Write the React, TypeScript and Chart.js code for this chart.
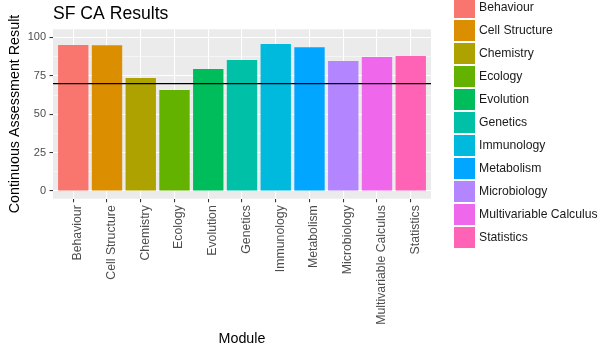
import React, { useEffect, useRef } from "react";
import { Chart, registerables } from "chart.js";

Chart.register(...registerables);

const categories = [
  "Behaviour",
  "Cell Structure",
  "Chemistry",
  "Ecology",
  "Evolution",
  "Genetics",
  "Immunology",
  "Metabolism",
  "Microbiology",
  "Multivariable Calculus",
  "Statistics",
];
const results = [95.1, 95.0, 73.6, 65.8, 79.4, 85.3, 95.7, 93.7, 84.6, 87.2, 87.9];
const colours = [
  "#F8766D",
  "#DB8E00",
  "#AEA200",
  "#64B200",
  "#00BD5C",
  "#00C1A7",
  "#00BADE",
  "#00A6FF",
  "#B385FF",
  "#EF67EB",
  "#FF63B6",
];
const yTickValues = [0, 12.5, 25, 37.5, 50, 62.5, 75, 87.5, 100];
const yMajorTicks = [0, 25, 50, 75, 100];
const referenceLine = 70;

const FONT = "'Liberation Sans', Arial, Helvetica, sans-serif";
const W = 614;
const H = 351;

const isMajor = (v: number) => yMajorTicks.includes(v);

const panelBackground = {
  id: "panelBackground",
  beforeDraw(chart: any) {
    const { ctx, chartArea } = chart;
    ctx.save();
    ctx.fillStyle = "#EBEBEB";
    ctx.fillRect(chartArea.left, chartArea.top, chartArea.right - chartArea.left, chartArea.bottom - chartArea.top);
    ctx.restore();
  },
};

const ggLegend = {
  id: "ggLegend",
  afterDraw(chart: any) {
    const { ctx } = chart;
    const keyX = 454;
    const keySize = 21;
    const step = 23;
    const firstTop = -3;
    ctx.save();
    ctx.font = `12.2px ${FONT}`;
    ctx.textBaseline = "middle";
    ctx.textAlign = "left";
    categories.forEach((name, i) => {
      const top = firstTop + i * step;
      ctx.fillStyle = colours[i];
      ctx.fillRect(keyX, top, keySize, keySize);
      ctx.fillStyle = "#1A1A1A";
      ctx.fillText(name, keyX + keySize + 4, top + keySize / 2 + 0.5);
    });
    ctx.restore();
  },
};

export default function App() {
  const canvasRef = useRef<HTMLCanvasElement | null>(null);

  useEffect(() => {
    const canvas = canvasRef.current;
    if (!canvas) return;
    Chart.defaults.font.family = FONT;

    const chart = new Chart(canvas, {
      type: "bar",
      data: {
        datasets: [
          {
            type: "line",
            label: "reference",
            data: [
              { x: -0.6, y: referenceLine },
              { x: categories.length - 1 + 0.6, y: referenceLine },
            ],
            borderColor: "#000000",
            borderWidth: 1.3,
            pointRadius: 0,
            fill: false,
            order: 0,
          } as any,
          {
            type: "bar",
            label: "Continuous Assessment Result",
            data: results.map((v, i) => ({ x: i, y: v })),
            backgroundColor: colours,
            borderWidth: 0,
            categoryPercentage: 1,
            barPercentage: 0.9,
            order: 1,
          } as any,
        ],
      },
      options: {
        responsive: false,
        animation: false,
        events: [],
        layout: { padding: { left: 0, top: 0, right: W - 431, bottom: 0 } },
        plugins: {
          legend: { display: false },
          tooltip: { enabled: false },
          title: {
            display: true,
            text: "SF CA Results",
            align: "start",
            fullSize: false,
            color: "#000000",
            font: { size: 17.6, weight: "normal", family: FONT },
            padding: { top: 3.9, bottom: 4.3 },
          },
        },
        scales: {
          x: {
            type: "linear",
            position: "bottom",
            offset: false,
            min: -0.6,
            max: categories.length - 1 + 0.6,
            afterBuildTicks: (scale: any) => {
              scale.ticks = categories.map((_, i) => ({ value: i }));
            },
            afterFit: (scale: any) => {
              scale.height = H - 198.7;
            },
            ticks: {
              autoSkip: false,
              maxRotation: 90,
              minRotation: 90,
              padding: 3,
              labelOffset: 4.5,
              color: "#4D4D4D",
              font: { size: 12.3, family: FONT },
              callback: (v: any) => categories[Math.round(Number(v))] ?? "",
            },
            grid: {
              offset: false,
              color: "#FFFFFF",
              lineWidth: 1.07,
              drawTicks: true,
              tickLength: 3.5,
              tickColor: "#333333",
              tickWidth: 1.07,
            },
            border: { display: false },
            title: {
              display: true,
              text: "Module",
              color: "#000000",
              font: { size: 14.3, family: FONT },
              padding: { top: 3.4, bottom: 3.4 },
            },
          },
          y: {
            type: "linear",
            position: "left",
            min: -5,
            max: 105.3,
            afterBuildTicks: (scale: any) => {
              scale.ticks = yTickValues.map((v) => ({ value: v }));
            },
            afterFit: (scale: any) => {
              scale.width = 53;
            },
            ticks: {
              autoSkip: false,
              padding: 3.5,
              color: "#4D4D4D",
              font: { size: 11, family: FONT },
              callback: (v: any) => (isMajor(Number(v)) ? String(v) : ""),
            },
            grid: {
              color: "#FFFFFF",
              lineWidth: (c: any) => (c.tick && isMajor(c.tick.value) ? 1.07 : 0.53),
              drawTicks: true,
              tickLength: 3.5,
              tickColor: (c: any) => (c.tick && isMajor(c.tick.value) ? "#333333" : "rgba(0,0,0,0)"),
              tickWidth: 1.07,
            },
            border: { display: false },
            title: {
              display: true,
              text: "Continuous Assessment Result",
              color: "#000000",
              font: { size: 14.3, family: FONT },
              padding: { top: 6.2, bottom: 6.2 },
            },
          },
        },
      },
      plugins: [panelBackground, ggLegend],
    } as any);

    return () => chart.destroy();
  }, []);

  return (
    <div style={{ position: "fixed", left: 0, top: 0, width: W, height: H, background: "#FFFFFF" }}>
      <canvas ref={canvasRef} width={W} height={H} style={{ display: "block" }} />
    </div>
  );
}
